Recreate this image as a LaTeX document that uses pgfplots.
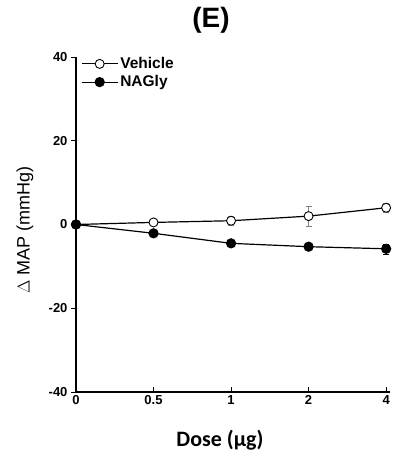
\documentclass[border=0pt]{standalone}
\usepackage{fontspec}
\setmainfont{Liberation Sans}
\newfontfamily\carl{Carlito}
\usepackage{pgfplots}
\pgfplotsset{compat=1.18}

\begin{document}
\begin{tikzpicture}
\path[use as bounding box] (-76pt,-67pt) rectangle (327pt,392pt);
\begin{axis}[
    scale only axis,
    width=314pt, height=335pt,
    xmin=0, xmax=4.05,
    ymin=-40, ymax=40,
    axis x line*=bottom,
    axis y line*=left,
    axis line style={line width=1.2pt},
    xtick={0,1,2,3,4},
    xticklabels={0,0.5,1,2,4},
    ytick={-40,-20,0,20,40},
    x tick style={line width=1pt, black},
    y tick style={line width=1pt, black},
    xtick align=inside,
    ytick align=outside,
    major tick length=5pt,
    tick label style={font=\fontsize{13}{15}\selectfont\bfseries},
    /pgf/number format/assume math mode=true,
    clip=false,
    legend style={draw=none, fill=none, at={(0.006,1.011)}, anchor=north west,
        font=\fontsize{15.5}{18}\selectfont\bfseries, row sep=1.5pt},
    legend cell align=left,
    legend image code/.code={
        \draw[mark repeat=2, mark phase=2, #1]
            plot coordinates {(0pt,0pt) (18pt,0pt) (36pt,0pt)};
    },
]
\addplot[black, line width=1.2pt, mark=*, mark size=4.5pt,
    mark options={fill=white, line width=0.9pt},
    error bars/.cd, y dir=both, y explicit,
    error bar style={line width=0.7pt, gray}, error mark options={rotate=90, mark size=3pt, gray}]
    coordinates {
    (0,0) +- (0,0.3)
    (1,0.5) +- (0,0.6)
    (2,0.9) +- (0,1.0)
    (3,2.0) +- (0,2.4)
    (4,4.0) +- (0,1.0)
};
\addlegendentry{Vehicle}
\addplot[black, line width=1.2pt, mark=*, mark size=4.5pt,
    mark options={fill=black},
    error bars/.cd, y dir=both, y explicit,
    error bar style={line width=0.7pt}, error mark options={rotate=90, mark size=3pt}]
    coordinates {
    (0,0) +- (0,0.3)
    (1,-2.1) +- (0,0.6)
    (2,-4.5) +- (0,0.6)
    (3,-5.3) +- (0,0.6)
    (4,-5.8) +- (0,1.2)
};
\addlegendentry{NAGly}
\end{axis}
\node[font=\fontsize{28}{32}\selectfont\bfseries] at (135pt,372pt) {(E)};
\node[rotate=90, font=\fontsize{18}{22}\selectfont] at (-51pt,162pt) {$\Delta$ MAP (mmHg)};
\node[font=\carl\fontsize{22}{26}\selectfont\bfseries] at (144pt,-48pt) {Dose (µg)};
\end{tikzpicture}
\end{document}
